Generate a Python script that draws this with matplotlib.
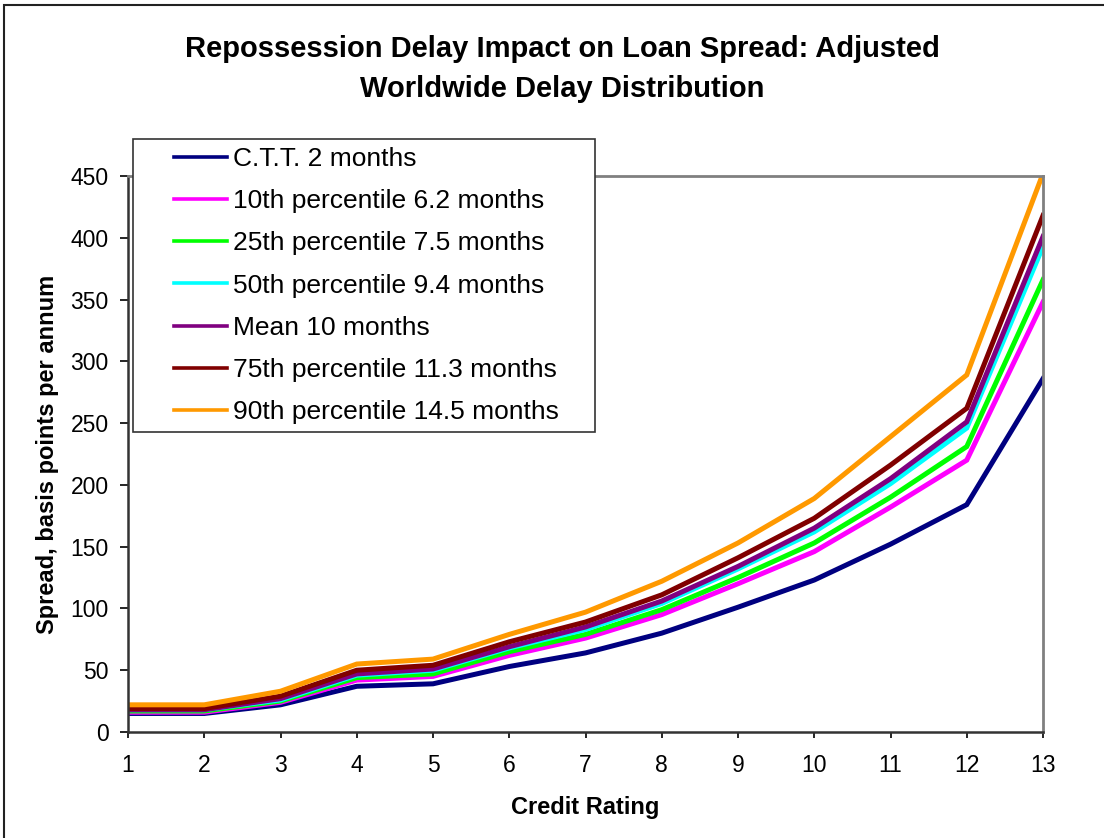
import matplotlib
matplotlib.use("Agg")
import matplotlib.pyplot as plt
import matplotlib.patches as patches
from matplotlib.lines import Line2D
from matplotlib.legend_handler import HandlerLine2D

plt.rcParams['font.family'] = ['Liberation Sans', 'DejaVu Sans']

ratings = list(range(1, 14))
series_names = ["C.T.T. 2 months", "10th percentile 6.2 months", "25th percentile 7.5 months",
                "50th percentile 9.4 months", "Mean 10 months", "75th percentile 11.3 months",
                "90th percentile 14.5 months"]
series_colors = ["#000080", "#FF00FF", "#00FF00", "#00FFFF", "#800080", "#800000", "#FF9900"]

ctt = [15, 15, 22, 37, 39, 53, 64, 80, 101, 123, 152, 184, 286]
p10 = [16, 16, 24, 42, 45, 62, 76, 95, 120, 146, 182, 220, 348]
p25 = [17, 17, 25, 44, 47, 65, 79, 99, 125, 153, 190, 231, 366]
p50 = [18, 18, 26, 46, 50, 68, 83, 104, 132, 162, 201, 246, 393]
mean = [18, 18, 27, 47, 51, 69, 85, 106, 134, 165, 205, 251, 401]
p75 = [19, 19, 29, 50, 54, 73, 89, 111, 141, 173, 216, 262, 418]
p90 = [22, 22, 33, 55, 59, 79, 97, 122, 153, 189, 239, 289, 452]
all_series = [ctt, p10, p25, p50, mean, p75, p90]

W, H = 1104, 838
fig = plt.figure(figsize=(W/100, H/100), dpi=100)
ax = fig.add_axes([128/W, 1-732/H, 915/W, 556/H])

# outer chart border (only left and top edges fall inside the picture)
fig.patches.append(patches.Rectangle((4/W, -0.05), 1.1, 1.05-5/H, transform=fig.transFigure,
                                     fill=False, edgecolor='#222222', linewidth=1.5))

for name, vals, col in zip(series_names, all_series, series_colors):
    ax.plot(ratings, vals, color=col, linewidth=3.6, label=name, solid_joinstyle='miter')

ax.set_xlim(1, 13)
ax.set_ylim(0, 450)
ax.set_xticks(ratings)
ax.set_yticks(range(0, 451, 50))
ax.tick_params(axis='both', labelsize=16.5, direction='out', colors='black', width=1.2)
ax.tick_params(axis='y', length=6, pad=8)
ax.tick_params(axis='x', length=4.5, pad=11)
for side in ['top', 'right']:
    ax.spines[side].set_color('#808080')
    ax.spines[side].set_linewidth(2)
for side in ['left', 'bottom']:
    ax.spines[side].set_color('#333333')
    ax.spines[side].set_linewidth(1.8)

ax.set_xlabel("Credit Rating", fontsize=17, fontweight='bold', labelpad=14)
ax.set_ylabel("Spread, basis points per annum", fontsize=17, fontweight='bold', labelpad=8)

fig.text(562/W, 1-57/H, "Repossession Delay Impact on Loan Spread: Adjusted",
         ha='center', va='baseline', fontsize=21, fontweight='bold')
fig.text(562/W, 1-97/H, "Worldwide Delay Distribution",
         ha='center', va='baseline', fontsize=21, fontweight='bold')

leg = ax.legend(loc='upper left', bbox_to_anchor=(133/W, 1-433/H, 462/W, 294/H),
                bbox_transform=fig.transFigure, mode='expand',
                fontsize=19, frameon=True, fancybox=False, framealpha=1, edgecolor='#333333',
                handlelength=3.25, handletextpad=0.25, labelspacing=0.69, borderpad=0.3,
                borderaxespad=0, handler_map={Line2D: HandlerLine2D(xpad=1.27)})
leg.get_frame().set_linewidth(1.2)
for h in leg.get_lines():
    h.set_linewidth(2.6)

fig.savefig("out.png", dpi=100)
